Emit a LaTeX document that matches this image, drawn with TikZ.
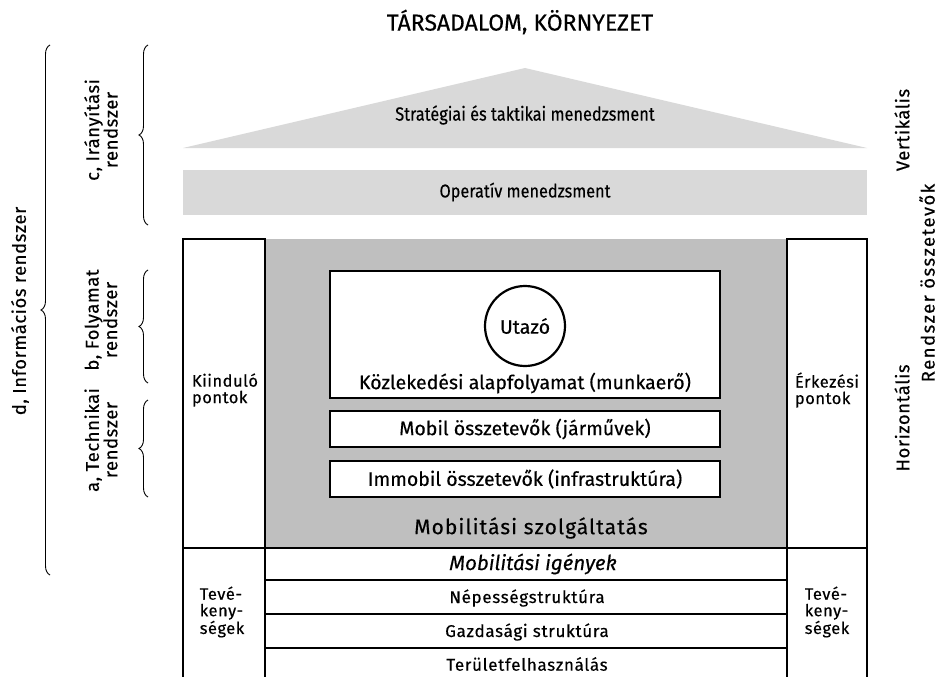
\documentclass[tikz,border=0pt]{standalone}
\usepackage{fontspec}
\setmainfont{Fira Sans}[FakeBold=0.35]
\usetikzlibrary{decorations.pathreplacing}
\newcommand\fsz[1]{\fontsize{#1}{#1}\selectfont}
\newcommand\spaced[1]{\addfontfeature{LetterSpace=#1}}
\begin{document}
\begin{tikzpicture}[x=1pt,y=-1pt,
  lightfill/.style={fill=black!15,draw=none},
  midfill/.style={fill=black!25,draw=none},
  cell/.style={draw=black,line width=1.4pt,fill=white},
  rule/.style={draw=black,line width=1.4pt},
  txt/.style={font=\fsz{19.5}},
  small/.style={font=\fsz{16.5}\spaced{3},align=left},
  row/.style={font=\fsz{17}\spaced{4}},
  side/.style={font=\fsz{18.5}\spaced{3},rotate=90,align=center},
  brc/.style={decorate,decoration={brace,amplitude=9pt},line width=0.9pt}]
\useasboundingbox (0,0) rectangle (940,677);

% roof and operative level
\node[font=\fsz{23}] (title) at (520,22) {TÁRSADALOM, KÖRNYEZET};
\path[lightfill] (183,148) -- (525,68) -- (867,148) -- cycle;
\node[font=\fsz{19}] (strat) at (525,115) {\scalebox{0.86}[1]{Stratégiai és taktikai menedzsment}};
\path[lightfill] (183,170) rectangle (867,215);
\node[font=\fsz{18.5}] (oper) at (525,192) {\scalebox{0.88}[1]{Operatív menedzsment}};

% mobility service block
\path[midfill] (265,239) rectangle (787,548);
\draw[cell] (183,239) rectangle (265,548);
\draw[cell] (787,239) rectangle (867,548);
\node[small] (kiind) at (225,390) {Kiinduló\\pontok};
\node[small] (erk) at (827,390) {Érkezési\\pontok};

\draw[cell] (330,271) rectangle (720,398);
\node[draw,line width=2.2pt,circle,minimum size=80pt,inner sep=0pt,txt] (utazo) at (525,326) {Utazó};
\node[txt] (kozl) at (525,383) {Közlekedési alapfolyamat (munkaerő)};
\draw[cell] (330,411) rectangle (720,447);
\node[txt] (mobil) at (525,429) {Mobil összetevők (járművek)};
\draw[cell] (330,461) rectangle (720,497);
\node[txt] (immob) at (525,479) {Immobil összetevők (infrastruktúra)};
\node[font=\fsz{21}\spaced{5}] (szolg) at (531,528) {Mobilitási szolgáltatás};

% demand rows
\draw[rule] (183,548) -- (867,548);
\draw[rule] (183,548) -- (183,677);
\draw[rule] (265,548) -- (265,677);
\draw[rule] (787,548) -- (787,677);
\draw[rule] (867,548) -- (867,677);
\draw[rule] (265,580) -- (787,580);
\draw[rule] (265,614) -- (787,614);
\draw[rule] (265,648) -- (787,648);
\node[font=\fsz{20.5}\itshape] (igeny) at (533,564) {Mobilitási igények};
\node[row] (nep) at (527,598) {Népességstruktúra};
\node[row] (gazd) at (527,632) {Gazdasági struktúra};
\node[row] (terul) at (527,664) {Területfelhasználás};
\node[small] (tev1) at (222,612) {Tevé-\\keny-\\ségek};
\node[small] (tev2) at (827,612) {Tevé-\\keny-\\ségek};

% subsystem braces
\coordinate (d1) at (50,575); \coordinate (d2) at (50,45);
\draw[brc] (d1) -- (d2);
\node[side] (dlab) at (20,311) {d, Információs rendszer};
\coordinate (c1) at (148,225); \coordinate (c2) at (148,45);
\draw[brc] (c1) -- (c2);
\node[side] (clab) at (101,130) {c, Irányítási\\rendszer};
\coordinate (b1) at (148,383); \coordinate (b2) at (148,270);
\draw[brc] (b1) -- (b2);
\node[side] (blab) at (101,320) {b, Folyamat\\rendszer};
\coordinate (a1) at (148,497); \coordinate (a2) at (148,400);
\draw[brc] (a1) -- (a2);
\node[side] (alab) at (101,440) {a, Technikai\\rendszer};

% component labels on the right
\node[side] (vert) at (902,130) {Vertikális};
\node[side] (hor) at (902,418) {Horizontális};
\node[side,font=\fsz{18.5}\spaced{8}] (rend) at (927,283) {Rendszer összetevők};
\end{tikzpicture}
\end{document}
